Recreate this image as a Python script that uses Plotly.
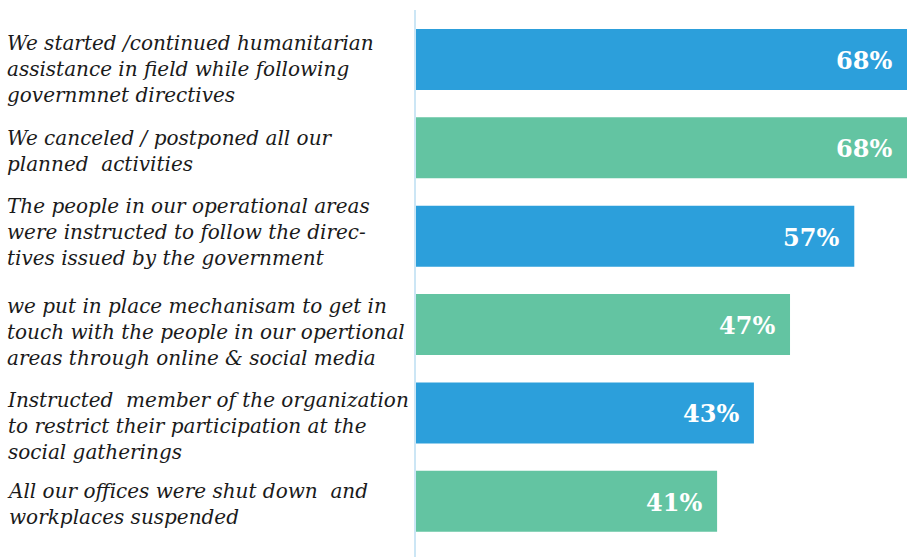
import plotly.graph_objects as go

categories = [
    "We started /continued humanitarian<br>assistance in field while following<br>governmnet directives",
    "We canceled / postponed all our<br>planned  activities",
    "The people in our operational areas<br>were instructed to follow the direc-<br>tives issued by the government",
    "we put in place mechanisam to get in<br>touch with the people in our opertional<br>areas through online & social media",
    "Instructed  member of the organization<br>to restrict their participation at the<br>social gatherings",
    "All our offices were shut down  and<br>workplaces suspended",
]
# bar lengths as drawn in the picture (in % units)
bar_values = [68, 68, 60.7, 51.8, 46.8, 41.7]
value_labels = ["68%", "68%", "57%", "47%", "43%", "41%"]
colors = ["#2c9fdb", "#63c4a2", "#2c9fdb", "#63c4a2", "#2c9fdb", "#63c4a2"]
label_shift = [-10, -3, 4, -7, -13, -3]

ids = list(range(len(categories)))

fig = go.Figure()
fig.add_trace(go.Bar(
    x=bar_values, y=ids, orientation="h",
    marker=dict(color=colors, line=dict(width=0)),
    width=0.69, hoverinfo="skip",
))

annotations = []
for i, (cat, v, lab, sh) in enumerate(zip(categories, bar_values, value_labels, label_shift)):
    annotations.append(dict(
        x=-411 / 491, xref="paper", y=i, yref="y",
        text=cat, showarrow=False, xanchor="left", yanchor="middle",
        align="left", yshift=sh,
        font=dict(family="DejaVu Serif", size=20, color="#1a1a1a", style="italic"),
    ))
    annotations.append(dict(
        x=v, xref="x", y=i, yref="y", text=lab, showarrow=False,
        xanchor="right", yanchor="middle", xshift=-13, yshift=-1,
        font=dict(family="DejaVu Serif", size=24, color="white", weight="bold"),
    ))

fig.update_layout(
    width=907, height=557,
    margin=dict(l=416, r=0, t=10, b=0),
    paper_bgcolor="white", plot_bgcolor="white",
    showlegend=False,
    xaxis=dict(range=[0, 68], showgrid=False, zeroline=False,
               showticklabels=False, showline=False),
    yaxis=dict(range=[5.63, -0.56], showgrid=False, zeroline=False,
               showticklabels=False, showline=True, linecolor="#cce6f5",
               linewidth=2, ticks=""),
    annotations=annotations,
)

fig.write_html("out.html")
